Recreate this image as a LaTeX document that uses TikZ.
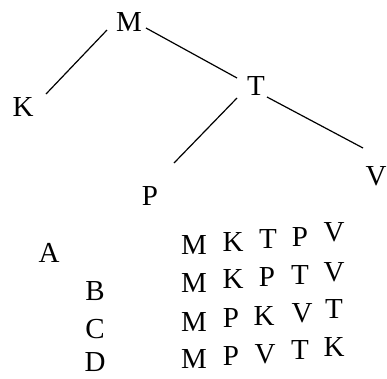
\documentclass[tikz,border=0pt]{standalone}
\usepackage{fontspec}
\setmainfont{Liberation Serif}
\usetikzlibrary{calc}
\begin{document}
\begin{tikzpicture}[x=1pt,y=-1pt,
  lab/.style={inner sep=0pt,font=\fontsize{29}{32}\selectfont},
  edge/.style={line width=1.2pt,black}]
\useasboundingbox (0,0) rectangle (387,378);
% tree
\node[lab] (m) at (129,22) {M};
\node[lab] (k) at (23,107) {K};
\node[lab] (t) at (256,86) {T};
\node[lab] (p) at (150,196) {P};
\node[lab] (v) at (376,176) {V};
\draw[edge] ($(m)+(-22,8)$) -- ($(k)+(23,-13)$);
\draw[edge] ($(m)+(17,6)$) -- ($(t)+(-19,-8)$);
\draw[edge] ($(t)+(-19,12)$) -- ($(p)+(24,-33)$);
\draw[edge] ($(t)+(11,11)$) -- ($(v)+(-13,-28)$);
% options
\node[lab] (oa) at (49,253) {A};
\node[lab] (ob) at (95,291) {B};
\node[lab] (oc) at (95,329) {C};
\node[lab] (od) at (95,362) {D};
% row A
\node[lab] (a1) at (194,245) {M};
\node[lab] (a2) at (233,242) {K};
\node[lab] (a3) at (268,239) {T};
\node[lab] (a4) at (300,237) {P};
\node[lab] (a5) at (334,232) {V};
% row B
\node[lab] (b1) at (194,283) {M};
\node[lab] (b2) at (233,279) {K};
\node[lab] (b3) at (267,277) {P};
\node[lab] (b4) at (300,275) {T};
\node[lab] (b5) at (334,272) {V};
% row C
\node[lab] (c1) at (194,322) {M};
\node[lab] (c2) at (231,318) {P};
\node[lab] (c3) at (264,316) {K};
\node[lab] (c4) at (302,313) {V};
\node[lab] (c5) at (334,309) {T};
% row D
\node[lab] (d1) at (194,359) {M};
\node[lab] (d2) at (231,356) {P};
\node[lab] (d3) at (265,354) {V};
\node[lab] (d4) at (300,350) {T};
\node[lab] (d5) at (334,347) {K};
\end{tikzpicture}
\end{document}
